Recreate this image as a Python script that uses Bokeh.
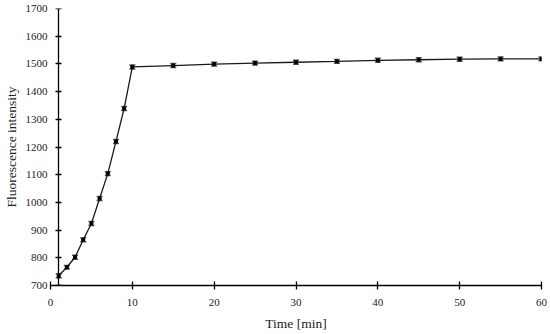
from bokeh.plotting import figure
from bokeh.models import Range1d, LinearAxis, FixedTicker, Whisker, ColumnDataSource, TeeHead
from bokeh.embed import file_html
from bokeh.resources import INLINE

# Data
time_min = [1, 2, 3, 4, 5, 6, 7, 8, 9, 10, 15, 20, 25, 30, 35, 40, 45, 50, 55, 60]
intensity = [735, 766, 802, 865, 924, 1014, 1104, 1220, 1339, 1489,
             1494, 1499, 1503, 1506, 1509, 1513, 1515, 1517, 1518, 1518]
error = [7, 6, 7, 7, 7, 7, 7, 7, 7, 7, 7, 7, 7, 7, 7, 7, 7, 7, 7, 7]
x_ticks = [0, 10, 20, 30, 40, 50, 60]
y_ticks = [700, 800, 900, 1000, 1100, 1200, 1300, 1400, 1500, 1600, 1700]

FONT = "Liberation Serif"

src = ColumnDataSource(dict(
    x=time_min, y=intensity,
    lo=[v - e for v, e in zip(intensity, error)],
    hi=[v + e for v, e in zip(intensity, error)],
))

p = figure(width=550, height=334, output_backend="svg", toolbar_location=None,
           x_range=Range1d(0, 60), y_range=Range1d(700, 1700),
           x_axis_type=None, y_axis_type=None,
           min_border_left=50, min_border_right=9, min_border_top=8, min_border_bottom=49)
p.outline_line_color = None
p.xgrid.visible = False
p.ygrid.visible = False
p.background_fill_color = "white"


def style(ax):
    ax.minor_tick_line_color = None
    ax.axis_line_color = "black"
    ax.axis_line_width = 1.3
    ax.major_tick_line_color = "black"
    ax.major_tick_line_width = 1.3
    ax.major_label_text_font = FONT
    ax.major_label_text_font_size = "11px"
    ax.major_label_text_color = "#222222"
    ax.axis_label_text_font = FONT
    ax.axis_label_text_font_size = "13.5px"
    ax.axis_label_text_font_style = "normal"
    ax.axis_label_text_color = "#222222"


xaxis = LinearAxis(ticker=FixedTicker(ticks=x_ticks), axis_label="Time [min]")
style(xaxis)
xaxis.major_tick_in = 4
xaxis.major_tick_out = 4
xaxis.major_label_standoff = 9
xaxis.axis_label_standoff = 7
p.add_layout(xaxis, "below")

# labels of the vertical axis (at the frame edge)
ylab = LinearAxis(ticker=FixedTicker(ticks=y_ticks), axis_label="Fluorescence intensity")
style(ylab)
ylab.axis_line_color = None
ylab.major_tick_line_color = None
ylab.major_tick_in = 0
ylab.major_tick_out = 0
ylab.major_label_standoff = 3
ylab.axis_label_standoff = 4
p.add_layout(ylab, "left")

# vertical axis line crossing at x = 1
yline = LinearAxis(ticker=FixedTicker(ticks=y_ticks), fixed_location=1)
style(yline)
yline.major_label_text_font_size = "0px"
yline.major_label_text_color = None
yline.major_label_standoff = 0
yline.major_tick_in = 3
yline.major_tick_out = 3
p.add_layout(yline, "right")

p.line("x", "y", source=src, line_color="#1a1a1a", line_width=1.3)
w = Whisker(source=src, base="x", upper="hi", lower="lo", line_color="#555555", line_width=1.5,
            upper_head=TeeHead(size=6, line_color="#555555", line_width=1.5),
            lower_head=TeeHead(size=6, line_color="#555555", line_width=1.5))
p.add_layout(w)
p.scatter("x", "y", source=src, marker="square", size=3, fill_color="black", line_color="black")

open("out.html", "w").write(file_html(p, INLINE))
